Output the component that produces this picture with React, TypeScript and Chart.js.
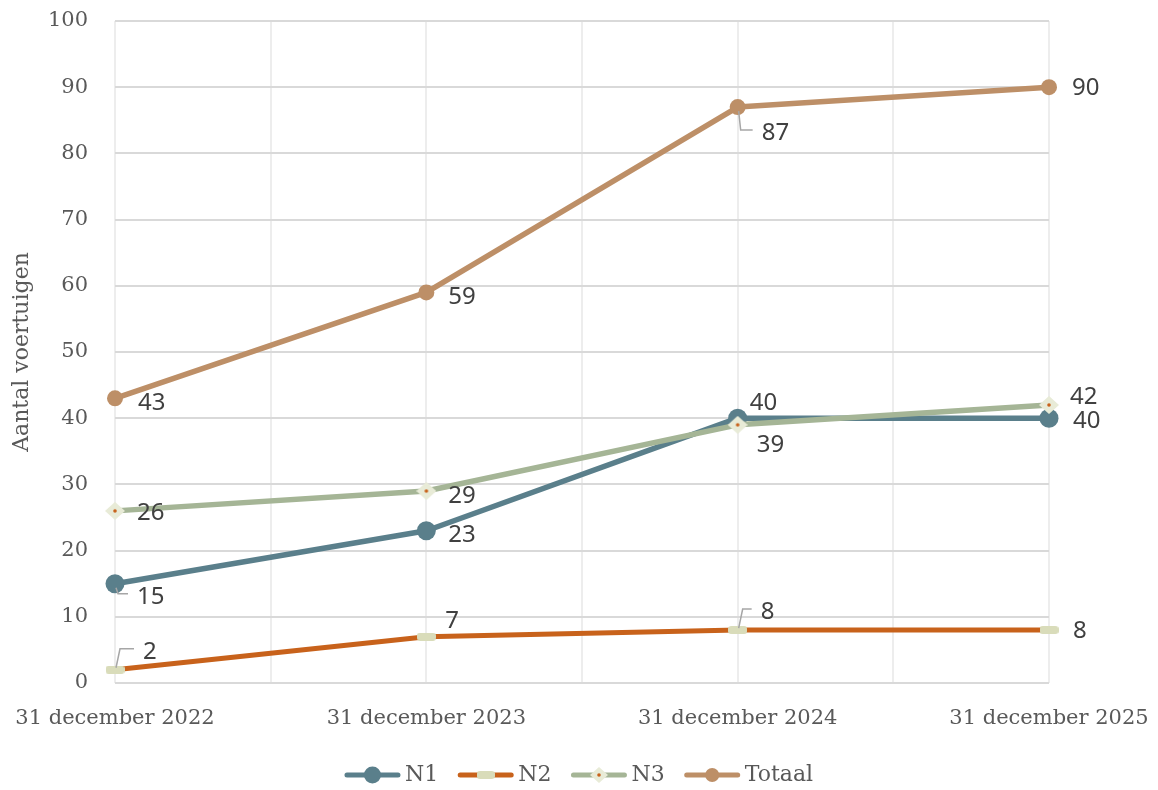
import React, { useEffect, useRef } from 'react';
import { Chart, registerables } from 'chart.js';

Chart.register(...registerables);

// ---- data ----
const categories = ['31 december 2022', '31 december 2023', '31 december 2024', '31 december 2025'];
const seriesNames = ['N1', 'N2', 'N3', 'Totaal'];
const n1Values = [15, 23, 40, 40];
const n2Values = [2, 7, 8, 8];
const n3Values = [26, 29, 39, 42];
const totaalValues = [43, 59, 87, 90];
const yMin = 0;
const yMax = 100;
const yStep = 10;
const yTitle = 'Aantal voertuigen';

// ---- styles ----
const COLORS = {
  N1: '#5A7F8B',
  N2: '#C8621B',
  N3: '#A5B596',
  Totaal: '#BD8F67',
};
const AXIS_TEXT = '#595959';
const LABEL_TEXT = '#404040';
const SERIF = '"DejaVu Serif", serif';
const SANS = '"Noto Sans", sans-serif';

// label offsets [dx, dy, leader] relative to the point
const labelOffsets: Record<string, [number, number, boolean][]> = {
  N1: [[22, 13, true], [22, 4, false], [12, -15, false], [24, 3, false]],
  N2: [[28, -18, true], [19, -16, false], [23, -18, true], [24, 1, false]],
  N3: [[22, 2, false], [22, 5, false], [19, 20, false], [21, -8, false]],
  Totaal: [[23, 5, false], [22, 5, false], [24, 26, true], [23, 1, false]],
};

function makeRectMarker(w: number, h: number) {
  const c = document.createElement('canvas');
  c.width = w;
  c.height = h;
  const ctx = c.getContext('2d')!;
  ctx.fillStyle = '#D9DCBA';
  const r = 3;
  ctx.beginPath();
  ctx.moveTo(r, 0);
  ctx.lineTo(w - r, 0);
  ctx.quadraticCurveTo(w, 0, w, r);
  ctx.lineTo(w, h - r);
  ctx.quadraticCurveTo(w, h, w - r, h);
  ctx.lineTo(r, h);
  ctx.quadraticCurveTo(0, h, 0, h - r);
  ctx.lineTo(0, r);
  ctx.quadraticCurveTo(0, 0, r, 0);
  ctx.fill();
  return c;
}

function makeDiamondMarker(w: number, h: number) {
  const c = document.createElement('canvas');
  c.width = w;
  c.height = h;
  const ctx = c.getContext('2d')!;
  ctx.fillStyle = '#E8EBD7';
  ctx.beginPath();
  ctx.moveTo(w / 2, 0);
  ctx.lineTo(w, h / 2);
  ctx.lineTo(w / 2, h);
  ctx.lineTo(0, h / 2);
  ctx.closePath();
  ctx.fill();
  ctx.fillStyle = COLORS.N2;
  ctx.beginPath();
  ctx.arc(w / 2, h / 2, 1.8, 0, Math.PI * 2);
  ctx.fill();
  return c;
}

const zeroPadding = (s: any) => {
  s.paddingTop = 0;
  s.paddingBottom = 0;
  s.paddingLeft = 0;
  s.paddingRight = 0;
};

export default function App() {
  const canvasRef = useRef<HTMLCanvasElement | null>(null);

  useEffect(() => {
    const canvas = canvasRef.current;
    if (!canvas) return;

    const rectMarker = makeRectMarker(19, 8);
    const diamondMarker = makeDiamondMarker(20, 18);
    const rectLegend = makeRectMarker(18, 8);
    const diamondLegend = makeDiamondMarker(18, 16);

    const dataLabelPlugin = {
      id: 'dataLabels',
      afterDatasetsDraw(chart: any) {
        const ctx = chart.ctx;
        ctx.save();
        chart.data.datasets.forEach((ds: any, di: number) => {
          const meta = chart.getDatasetMeta(di);
          const offs = labelOffsets[ds.label];
          meta.data.forEach((pt: any, i: number) => {
            const [dx, dy, leader] = offs[i];
            const lx = pt.x + dx;
            const ly = pt.y + dy;
            if (leader) {
              ctx.strokeStyle = '#A6A6A6';
              ctx.lineWidth = 1.5;
              ctx.beginPath();
              const up = ly < pt.y;
              const cy = ly - 3;
              ctx.moveTo(pt.x + 1, pt.y + (up ? -2 : 4));
              ctx.lineTo(pt.x + (up ? 5 : 3), cy);
              ctx.lineTo(lx - 9, cy);
              ctx.stroke();
            }
            const value = ds.data[i].y;
            ctx.fillStyle = LABEL_TEXT;
            ctx.font = `24px ${SANS}`;
            ctx.textAlign = 'left';
            ctx.textBaseline = 'middle';
            ctx.fillText(String(value), lx, ly);
          });
        });
        ctx.restore();
      },
    };

    const legendPlugin = {
      id: 'customLegend',
      afterDraw(chart: any) {
        const ctx = chart.ctx;
        ctx.save();
        ctx.font = `22px ${SERIF}`;
        const lineLen = 55;
        const gapText = 5;
        const gapItem = 20;
        const widths = seriesNames.map((n) => lineLen + gapText + ctx.measureText(n).width);
        const total = widths.reduce((a, b) => a + b, 0) + gapItem * (seriesNames.length - 1);
        let x = chart.width / 2 - total / 2;
        const y = 775;
        seriesNames.forEach((name, i) => {
          const color = (COLORS as any)[name];
          ctx.strokeStyle = color;
          ctx.lineWidth = 5;
          ctx.lineCap = 'round';
          ctx.beginPath();
          ctx.moveTo(x + 2, y);
          ctx.lineTo(x + lineLen - 2, y);
          ctx.stroke();
          const cx = x + lineLen / 2;
          if (name === 'N1') {
            ctx.fillStyle = color;
            ctx.beginPath();
            ctx.arc(cx, y, 8.5, 0, Math.PI * 2);
            ctx.fill();
          } else if (name === 'N2') {
            ctx.drawImage(rectLegend, cx - rectLegend.width / 2, y - rectLegend.height / 2);
          } else if (name === 'N3') {
            ctx.drawImage(diamondLegend, cx - diamondLegend.width / 2, y - diamondLegend.height / 2);
          } else {
            ctx.fillStyle = color;
            ctx.beginPath();
            ctx.arc(cx, y, 7, 0, Math.PI * 2);
            ctx.fill();
          }
          ctx.fillStyle = AXIS_TEXT;
          ctx.textAlign = 'left';
          ctx.textBaseline = 'middle';
          ctx.fillText(name, x + lineLen + gapText, y);
          x += widths[i] + gapItem;
        });
        ctx.restore();
      },
    };

    const toXY = (vals: number[]) => vals.map((v, i) => ({ x: i, y: v }));

    const chart = new Chart(canvas, {
      type: 'line',
      data: {
        datasets: [
          {
            label: 'N1',
            data: toXY(n1Values),
            borderColor: COLORS.N1,
            backgroundColor: COLORS.N1,
            borderWidth: 5.5,
            pointStyle: 'circle',
            pointRadius: 9.5,
            pointBackgroundColor: COLORS.N1,
            pointBorderWidth: 0,
            clip: false,
            order: 3,
          },
          {
            label: 'N2',
            data: toXY(n2Values),
            borderColor: COLORS.N2,
            backgroundColor: COLORS.N2,
            borderWidth: 5,
            pointStyle: rectMarker as any,
            pointRadius: 10,
            clip: false,
            order: 2,
          },
          {
            label: 'N3',
            data: toXY(n3Values),
            borderColor: COLORS.N3,
            backgroundColor: COLORS.N3,
            borderWidth: 5.5,
            pointStyle: diamondMarker as any,
            pointRadius: 10,
            clip: false,
            order: 1,
          },
          {
            label: 'Totaal',
            data: toXY(totaalValues),
            borderColor: COLORS.Totaal,
            backgroundColor: COLORS.Totaal,
            borderWidth: 5.5,
            pointStyle: 'circle',
            pointRadius: 8,
            pointBackgroundColor: COLORS.Totaal,
            pointBorderWidth: 0,
            clip: false,
            order: 0,
          },
        ] as any,
      },
      options: {
        animation: false,
        responsive: false,
        events: [],
        layout: { padding: { left: 0, right: 109, top: 21, bottom: 57 } },
        elements: { line: { tension: 0, borderCapStyle: 'round', borderJoinStyle: 'round' } },
        plugins: {
          legend: { display: false },
          tooltip: { enabled: false },
        },
        scales: {
          x: {
            type: 'linear',
            min: 0,
            max: categories.length - 1,
            afterFit: (s: any) => {
              s.height = 50;
              zeroPadding(s);
            },
            afterBuildTicks: (s: any) => {
              const t = [];
              for (let v = 0; v <= (categories.length - 1) * 2; v++) t.push({ value: v / 2 });
              s.ticks = t;
            },
            ticks: {
              autoSkip: false,
              maxRotation: 0,
              padding: 23,
              color: AXIS_TEXT,
              font: { family: SERIF, size: 21 },
              callback: (v: any) => (Number.isInteger(v) ? categories[v] : ''),
            },
            grid: { color: '#EDEDED', lineWidth: 2, drawTicks: false },
            border: { display: false },
          },
          y: {
            min: yMin,
            max: yMax,
            afterFit: (s: any) => {
              s.width = 115;
              zeroPadding(s);
            },
            ticks: {
              stepSize: yStep,
              padding: 27,
              color: AXIS_TEXT,
              font: { family: SERIF, size: 21 },
            },
            grid: { color: '#D9D9D9', lineWidth: 2, drawTicks: false },
            border: { display: false },
            title: {
              display: true,
              text: yTitle,
              color: AXIS_TEXT,
              font: { family: SERIF, size: 22 },
              padding: { top: 9, bottom: 0 },
            },
          },
        },
      } as any,
      plugins: [dataLabelPlugin, legendPlugin],
    });

    return () => chart.destroy();
  }, []);

  return (
    <div style={{ position: 'absolute', left: 0, top: 0, width: 1158, height: 790, background: '#fff' }}>
      <canvas ref={canvasRef} width={1158} height={790} style={{ display: 'block' }} />
    </div>
  );
}
